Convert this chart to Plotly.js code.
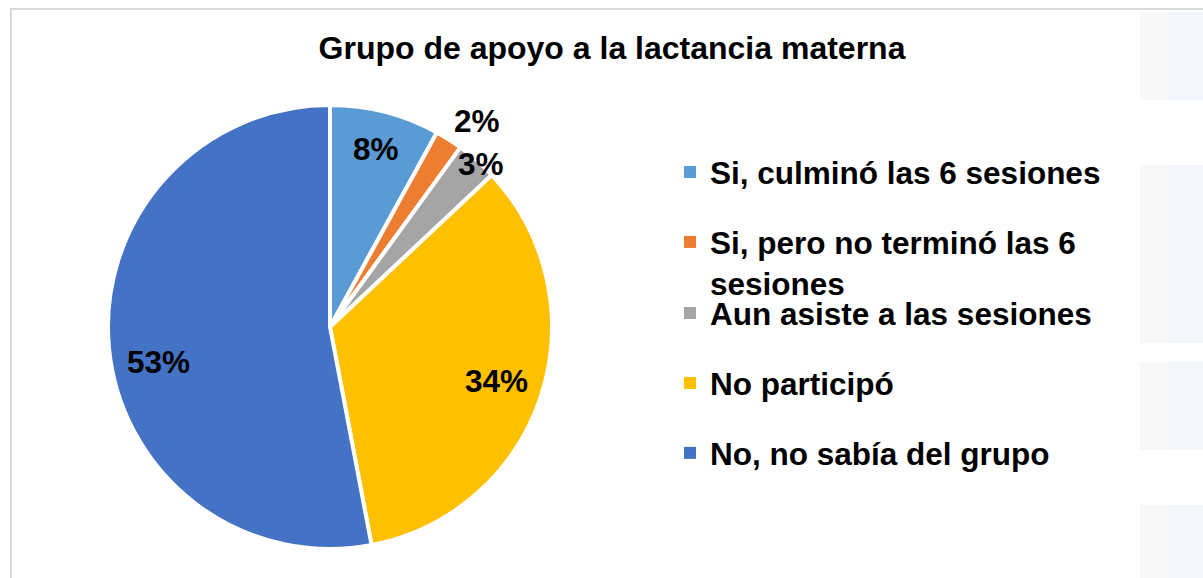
<!DOCTYPE html>
<html>
<head>
<meta charset="utf-8">
<script src="https://cdn.plot.ly/plotly-3.0.1.min.js"></script>
<style>
  html, body { margin: 0; padding: 0; background: #ffffff; }
  #chart { width: 1203px; height: 578px; }
</style>
</head>
<body>
<div id="chart"></div>
<script>
// ---- data ----
const chartTitle = 'Grupo de apoyo a la lactancia materna';
const categories = [
  'Si, culminó las 6 sesiones',
  'Si, pero no terminó las 6<br>sesiones',
  'Aun asiste a las sesiones',
  'No participó',
  'No, no sabía del grupo'
];
const percentValues = [8, 2, 3, 34, 53];
const sliceColors = ['#5B9BD5', '#ED7D31', '#A5A5A5', '#FFC000', '#4472C4'];

// ---- layout constants (positions / styles) ----
const W = 1203, H = 578;
const FONT = 'Liberation Sans, Arial, Helvetica, sans-serif';
const pieCx = 330, pieCy = 327, pieR = 222;          // pixels
const labelRadius = [0.83, 1.14, 1.0, 0.79, 0.79];    // fraction of radius
const labelAngleShift = [0, 3, 1.5, 0, -6];           // degrees
const legendSplit = 2;                                // items in first legend block

const px2x = v => v / W;
const py2y = v => 1 - v / H;

const pieDomain = {
  x: [px2x(pieCx - pieR), px2x(pieCx + pieR)],
  y: [py2y(pieCy + pieR), py2y(pieCy - pieR)]
};

const traces = [{
  type: 'pie',
  labels: categories,
  values: percentValues,
  sort: false,
  direction: 'clockwise',
  rotation: 0,
  marker: { colors: sliceColors, line: { color: '#ffffff', width: 4 } },
  textinfo: 'none',
  hoverinfo: 'label+percent',
  showlegend: false,
  domain: pieDomain
}];

// legend entries (one per slice, same arrays)
categories.forEach((c, i) => {
  traces.push({
    type: 'scatter',
    mode: 'markers',
    x: [null], y: [null],
    name: c,
    legend: i < legendSplit ? 'legend' : 'legend2',
    legendgroup: 'g' + i,
    marker: { symbol: 'square', size: 12, color: sliceColors[i] },
    hoverinfo: 'skip',
    showlegend: true
  });
});

// slice percentage labels, positioned from the data angles
const total = percentValues.reduce((a, b) => a + b, 0);
let cum = 0;
const annotations = percentValues.map((v, i) => {
  const mid = (cum + v / 2) / total * 360 + labelAngleShift[i];
  cum += v;
  const rad = mid * Math.PI / 180;
  const r = labelRadius[i] * pieR;
  const x = pieCx + r * Math.sin(rad);
  const y = pieCy - r * Math.cos(rad);
  return {
    xref: 'paper', yref: 'paper',
    x: px2x(x), y: py2y(y),
    xanchor: 'center', yanchor: 'middle',
    text: Math.round(v / total * 100) + '%',
    showarrow: false,
    font: { family: FONT, size: 31.5, color: '#000000', weight: 'bold' }
  };
});

const gray = '#D9D9D9';
const shapes = [
  // chart frame (left and top edges)
  { type: 'line', xref: 'paper', yref: 'paper', x0: px2x(11), x1: px2x(11), y0: py2y(9), y1: 0,
    line: { color: gray, width: 2 } },
  { type: 'line', xref: 'paper', yref: 'paper', x0: px2x(10), x1: 1, y0: py2y(9), y1: py2y(9),
    line: { color: gray, width: 2 } }
];
// faint background panels on the right edge
[[12, 100], [165, 343], [362, 450], [505, 578]].forEach(b => {
  shapes.push({ type: 'rect', xref: 'paper', yref: 'paper', layer: 'below',
    x0: px2x(1140), x1: px2x(1168), y0: py2y(b[1]), y1: py2y(b[0]),
    line: { width: 0 }, fillcolor: '#F8F8F8' });
  shapes.push({ type: 'rect', xref: 'paper', yref: 'paper', layer: 'below',
    x0: px2x(1168), x1: 1, y0: py2y(b[1]), y1: py2y(b[0]),
    line: { width: 0 }, fillcolor: '#F3F6FA' });
});

const legendFont = { family: FONT, size: 31.5, color: '#000000', weight: 'bold' };
const layout = {
  width: W, height: H, autosize: false,
  margin: { l: 0, r: 0, t: 0, b: 0, pad: 0 },
  paper_bgcolor: '#ffffff', plot_bgcolor: 'rgba(0,0,0,0)',
  title: {
    text: chartTitle,
    font: { family: FONT, size: 32, color: '#000000', weight: 'bold' },
    x: px2x(612), xanchor: 'center',
    y: py2y(48), yanchor: 'middle'
  },
  xaxis: { visible: false, fixedrange: true },
  yaxis: { visible: false, fixedrange: true },
  showlegend: true,
  legend: {
    x: px2x(670), xanchor: 'left', y: py2y(145), yanchor: 'top',
    font: legendFont, bgcolor: 'rgba(0,0,0,0)', borderwidth: 0,
    traceorder: 'grouped', tracegroupgap: 26, valign: 'top', itemclick: false
  },
  legend2: {
    x: px2x(670), xanchor: 'left', y: py2y(286), yanchor: 'top',
    font: legendFont, bgcolor: 'rgba(0,0,0,0)', borderwidth: 0,
    traceorder: 'grouped', tracegroupgap: 26, valign: 'top', itemclick: false
  },
  annotations: annotations,
  shapes: shapes
};

Plotly.newPlot('chart', traces, layout, { displayModeBar: false, staticPlot: true });
</script>
</body>
</html>
